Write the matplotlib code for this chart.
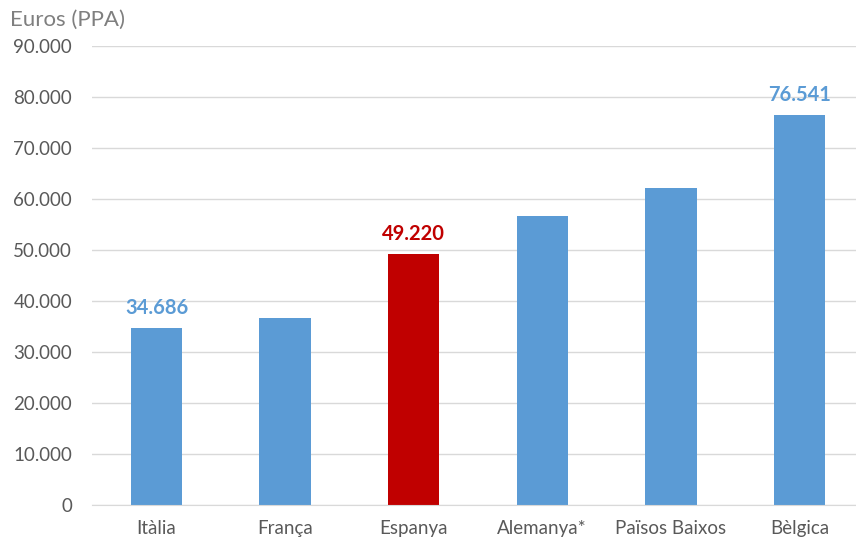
import matplotlib
matplotlib.use("Agg")
import matplotlib.pyplot as plt
from matplotlib.ticker import FuncFormatter

categories = ["Itàlia", "França", "Espanya", "Alemanya*", "Països Baixos", "Bèlgica"]
values = [34686, 36650, 49220, 56750, 62230, 76541]
colors = ["#5B9BD5", "#5B9BD5", "#C00000", "#5B9BD5", "#5B9BD5", "#5B9BD5"]
labelled = {0: "34.686", 2: "49.220", 5: "76.541"}

plt.rcParams['font.family'] = ['Lato', 'DejaVu Sans']

fig = plt.figure(figsize=(8.56, 5.41), dpi=100)
ax = fig.add_axes([0.1077, 0.0665, 0.9014, 0.8485])

x = range(len(categories))
ax.bar(x, values, width=0.4, color=colors, zorder=3)

ax.set_ylim(0, 90000)
ax.set_xlim(-0.5, len(categories) - 0.5)
ax.set_yticks(range(0, 90001, 10000))
ax.yaxis.set_major_formatter(FuncFormatter(lambda v, p: f"{int(v):,}".replace(",", ".")))
ax.grid(axis='y', color='#D9D9D9', linewidth=1, zorder=0)
ax.set_xticks(list(x))
ax.set_xticklabels(categories)
ax.tick_params(axis='y', length=0, pad=14.5, labelsize=13.5, labelcolor='#595959')
ax.tick_params(axis='x', length=0, pad=11, labelsize=13.5, labelcolor='#595959')
for s in ['top', 'right', 'left']:
    ax.spines[s].set_visible(False)
ax.spines['bottom'].set_color('#D9D9D9')
ax.spines['bottom'].set_zorder(4)

for i, txt in labelled.items():
    ax.annotate(txt, (i, values[i]), xytext=(0, 7), textcoords='offset points',
                ha='center', va='bottom', fontsize=14.5, fontweight='bold', color=colors[i])

fig.text(0.012, 0.963, "Euros (PPA)", fontsize=16, color='#7F7F7F', ha='left', va='center')

fig.savefig("out.png", dpi=100)
